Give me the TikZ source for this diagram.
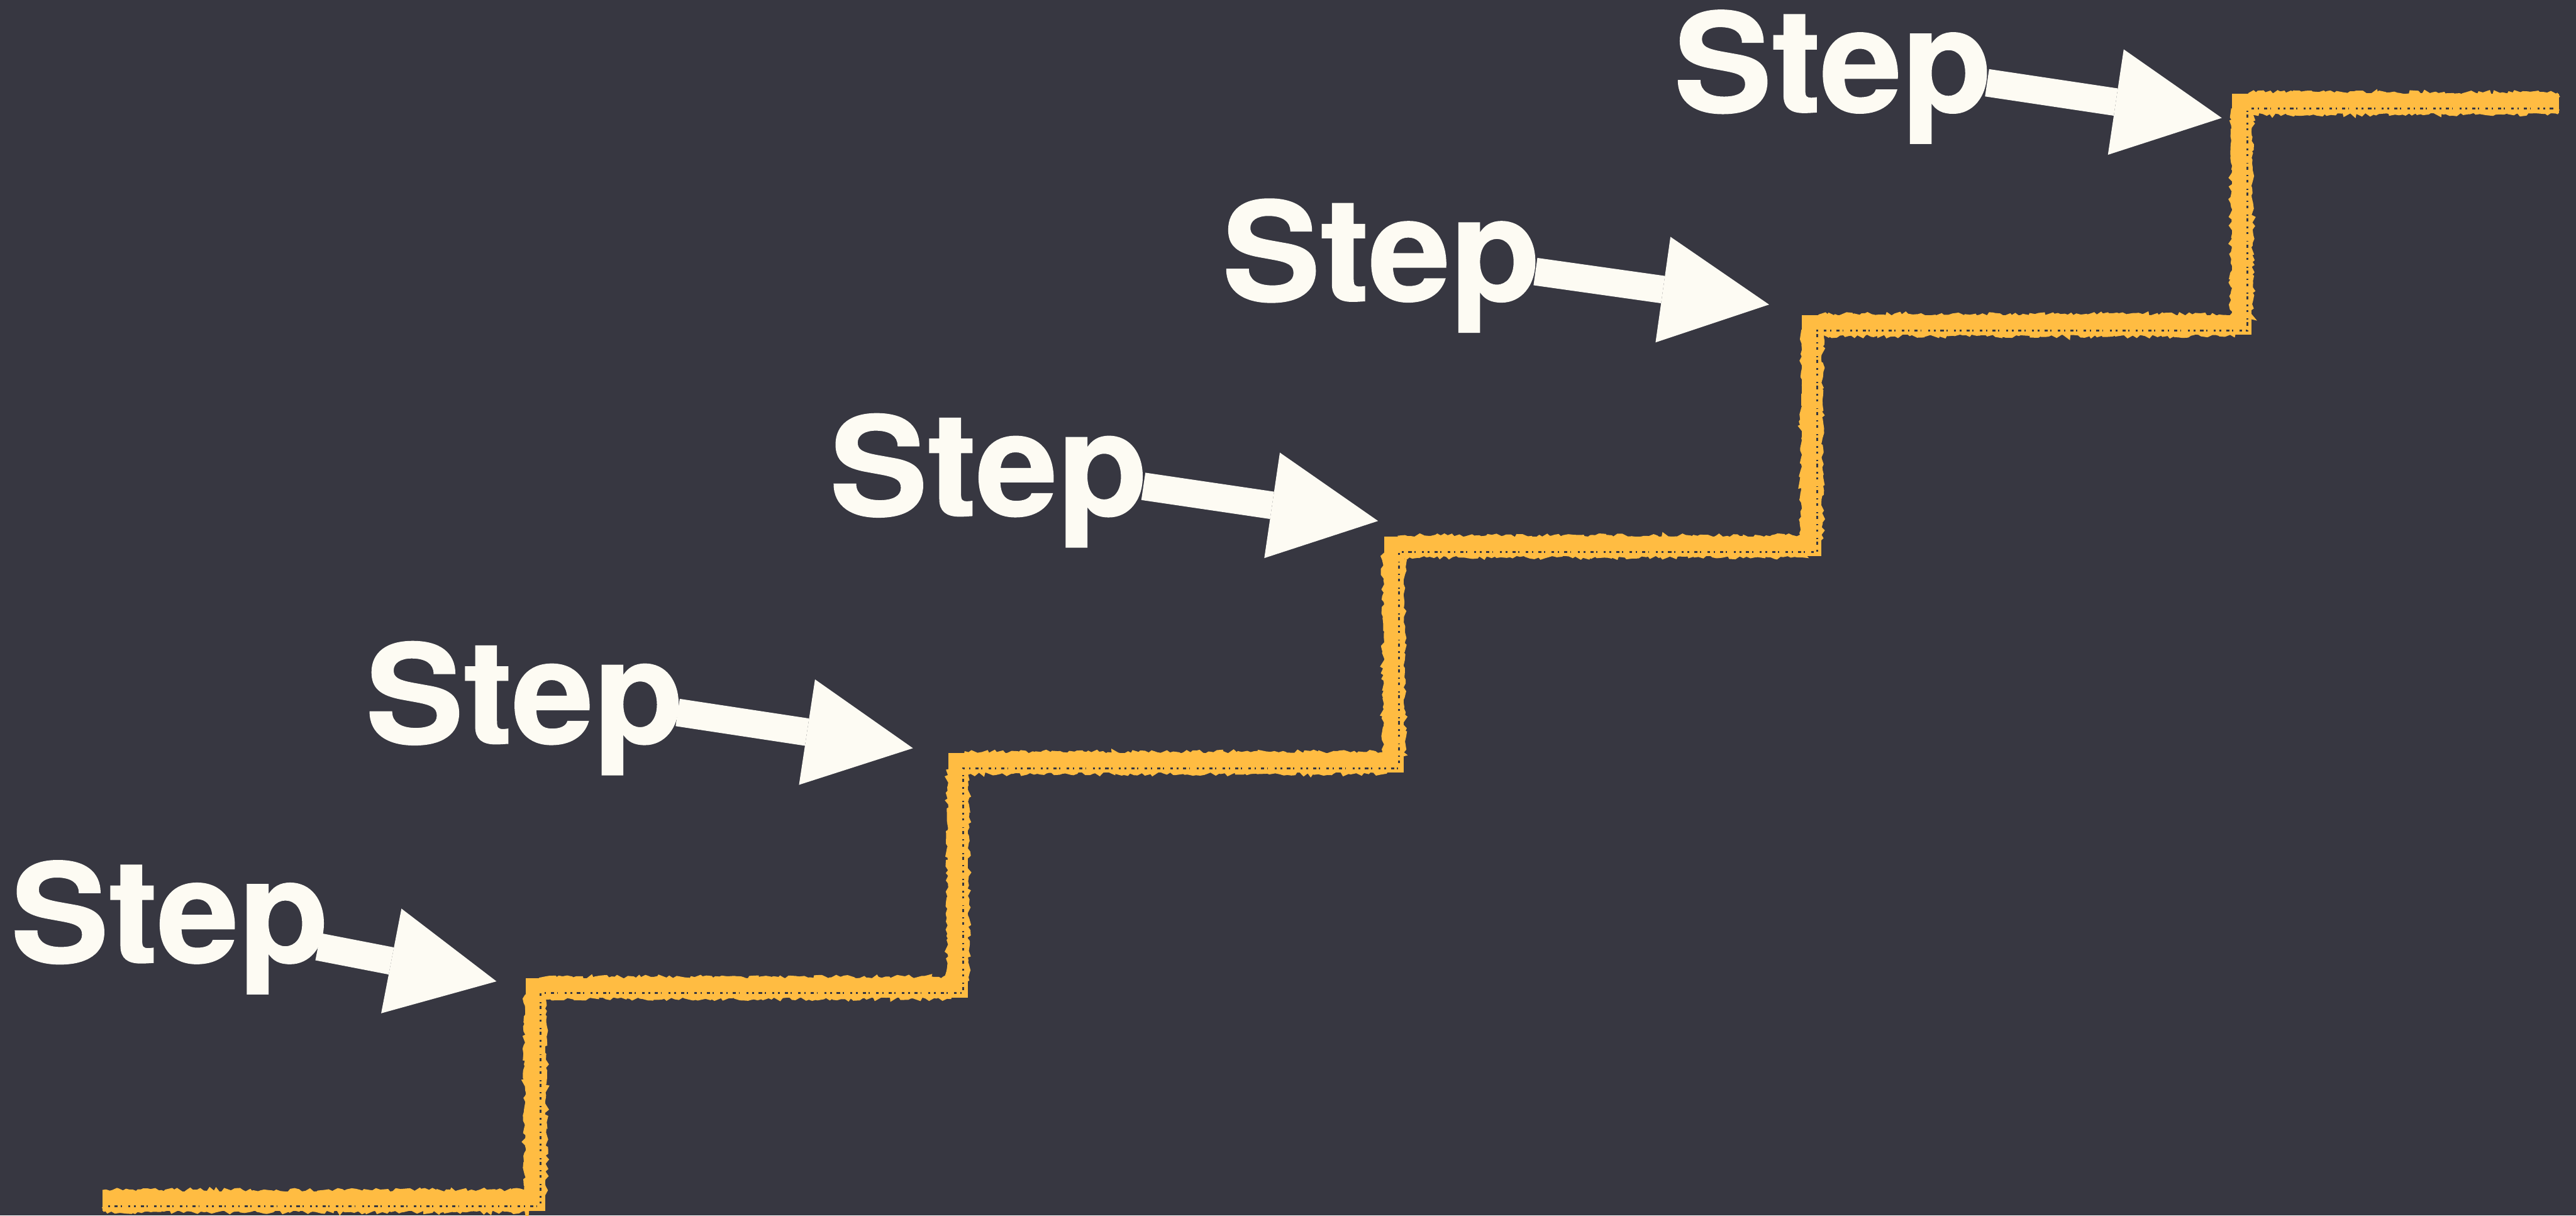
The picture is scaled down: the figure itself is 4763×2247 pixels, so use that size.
\documentclass[tikz,border=0pt]{standalone}
\usepackage{fontspec}
\usepackage{graphicx}
\setmainfont{TeX Gyre Heros}[BoldFeatures={FakeBold=0.8}]
\usetikzlibrary{arrows.meta,calc,decorations.pathmorphing}
\definecolor{bgc}{RGB}{55,55,65}
\definecolor{chalk}{RGB}{255,188,66}
\definecolor{inkc}{RGB}{253,251,243}
\newcommand{\steptext}{\scalebox{1.07}[1]{S\scalebox{1}[1.05]{tep}}}
\begin{document}
\begin{tikzpicture}[x=0.01cm,y=-0.01cm,
  lbl/.style={anchor=base west, inner sep=0pt, text=inkc, font=\fontsize{72.3}{80}\selectfont\bfseries},
  steparrow/.style={draw=inkc, line width=0.51cm, -{Triangle[length=1.98cm,width=1.97cm,line width=0pt]}},
  stair/.style={draw=chalk, line width=0.36cm, line join=miter},
  rough/.style={draw=chalk, line width=0.09cm, decorate, decoration={random steps, segment length=0.06cm, amplitude=0.035cm}},
  speck/.style={draw=bgc, line width=0.035cm, dash pattern=on 0.03cm off 0.09cm on 0.06cm off 0.05cm on 0.02cm off 0.12cm on 0.04cm off 0.07cm}]
\fill[bgc] (0,0) rectangle (4763,2247);
\useasboundingbox (0,0) rectangle (4763,2247);
\pgfmathsetseed{7}
% stair line
\draw[stair] (190,2220) -- (990,2220) -- (990,1826) -- (1771,1826) -- (1771,1410) -- (2577,1410) -- (2577,1010) -- (3350,1010) -- (3350,601) -- (4145,601) -- (4145,191) -- (4731,191);
\begin{scope}[shift={(16,-16)}]
\draw[rough] (174,2220) -- (990,2220) -- (990,1826) -- (1771,1826) -- (1771,1410) -- (2577,1410) -- (2577,1010) -- (3350,1010) -- (3350,601) -- (4145,601) -- (4145,191) -- (4715,191);
\end{scope}
\begin{scope}[shift={(-16,16)}]
\draw[rough] (206,2220) -- (990,2220) -- (990,1826) -- (1771,1826) -- (1771,1410) -- (2577,1410) -- (2577,1010) -- (3350,1010) -- (3350,601) -- (4145,601) -- (4145,191) -- (4747,191);
\end{scope}
\begin{scope}[shift={(10,10)}]
\draw[speck] (190,2220) -- (990,2220) -- (990,1826) -- (1771,1826) -- (1771,1410) -- (2577,1410) -- (2577,1010) -- (3350,1010) -- (3350,601) -- (4145,601) -- (4145,191) -- (4715,191);
\end{scope}
% labels
\node[lbl] (s1) at (19,1779) {\steptext};
\node[lbl] (s2) at (675,1374) {\steptext};
\node[lbl] (s3) at (1533,953) {\steptext};
\node[lbl] (s4) at (2259,556) {\steptext};
\node[lbl] (s5) at (3094,207) {\steptext};
% arrow ends
\coordinate (a1) at (588,1750);  \coordinate (t1) at (918,1814);
\coordinate (a2) at (1253,1317); \coordinate (t2) at (1688,1383);
\coordinate (a3) at (2114,899);  \coordinate (t3) at (2548,963);
\coordinate (a4) at (2839,502);  \coordinate (t4) at (3271,563);
\coordinate (a5) at (3674,153);  \coordinate (t5) at (4108,218);
\draw[steparrow] (a1) -- (t1);
\draw[steparrow] (a2) -- (t2);
\draw[steparrow] (a3) -- (t3);
\draw[steparrow] (a4) -- (t4);
\draw[steparrow] (a5) -- (t5);
\end{tikzpicture}
\end{document}
